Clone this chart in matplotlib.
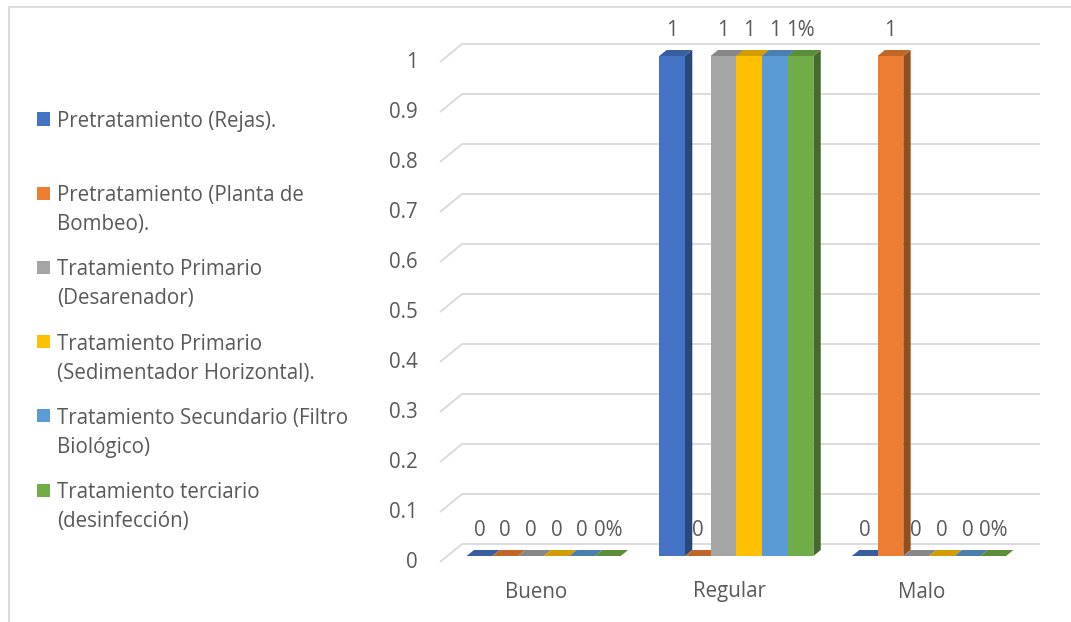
import matplotlib.pyplot as plt
from matplotlib.patches import Polygon, Rectangle
import numpy as np

plt.rcParams['font.family'] = ['Open Sans', 'DejaVu Sans']

# datos de la evaluación por etapa de tratamiento
categorias = ['Bueno', 'Regular', 'Malo']
series = [
    'Pretratamiento (Rejas).',
    'Pretratamiento (Planta de\nBombeo).',
    'Tratamiento Primario\n(Desarenador)',
    'Tratamiento Primario\n(Sedimentador Horizontal).',
    'Tratamiento Secundario (Filtro\nBiológico)',
    'Tratamiento terciario\n(desinfección)',
]
rejas = [0, 1, 0]
bombeo = [0, 0, 1]
desarenador = [0, 1, 0]
sedimentador = [0, 1, 0]
filtro = [0, 1, 0]
desinfeccion = [0, 1, 0]
valores = [rejas, bombeo, desarenador, sedimentador, filtro, desinfeccion]
formatos = ['{:g}', '{:g}', '{:g}', '{:g}', '{:g}', '{:g}%']
ticks_y = [0, 0.1, 0.2, 0.3, 0.4, 0.5, 0.6, 0.7, 0.8, 0.9, 1]

colores = ['#4472C4', '#ED7D31', '#A5A5A5', '#FFC000', '#5B9BD5', '#70AD47']
gris_texto = '#595959'
gris_grid = '#D9D9D9'
fs = 14.8

W, H = 1071, 622
fig = plt.figure(figsize=(W / 100, H / 100), dpi=100)

# marco del gráfico
fig.patches.append(Rectangle((9 / W, -0.1), 1.2, 1 - 7 / H + 0.1, transform=fig.transFigure,
                             fill=False, edgecolor=gris_grid, lw=1.3))

# plano frontal del área de trazado (en píxeles)
x_ini, x_fin, y_cero, y_uno = 440, 1018, 562, 62
ax = fig.add_axes([x_ini / W, (H - y_cero) / H, (x_fin - x_ini) / W, (y_cero - y_uno) / H])
ax.set_xlim(0, len(categorias))
ax.set_ylim(0, 1)
ax.axis('off')

# profundidad de la vista 3D convertida a unidades de datos
px_x = len(categorias) / (x_fin - x_ini)
px_y = 1 / (y_cero - y_uno)
DX, DY = 22 * px_x, 18 * px_y
dx, dy = DX / 3, DY / 3

# pared de fondo con líneas de cuadrícula
for v in ticks_y:
    ax.plot([0, DX, len(categorias) + DX], [v, v + DY, v + DY], color=gris_grid, lw=1.3,
            clip_on=False, zorder=0, solid_capstyle='butt')
    ax.annotate(f'{v:g}', (0, v), xytext=(-22, 0), textcoords='offset pixels',
                ha='right', va='center', fontsize=fs, color=gris_texto, annotation_clip=False)

for i, cat in enumerate(categorias):
    ax.annotate(cat, (i + 0.5, 0), xytext=(0, -30), textcoords='offset pixels',
                ha='center', va='center', fontsize=fs, color=gris_texto, annotation_clip=False)


def sombra(color, f):
    rgb = np.array(plt.matplotlib.colors.to_rgb(color))
    return tuple(rgb * f)


ancho_grupo = 0.8
bw = ancho_grupo / len(series)
orden = 1
for i in range(len(categorias)):
    for j, serie in enumerate(valores):
        v = serie[i]
        x0 = i + (1 - ancho_grupo) / 2 + j * bw + dx
        x1 = x0 + bw
        base = dy
        top = base + v
        c = colores[j]
        if v > 0:
            ax.add_patch(Polygon([(x1, base), (x1 + dx, base + dy), (x1 + dx, top + dy), (x1, top)],
                                 closed=True, facecolor=sombra(c, 0.62), edgecolor='none',
                                 clip_on=False, zorder=orden))
        ax.add_patch(Polygon([(x0, top), (x1, top), (x1 + dx, top + dy), (x0 + dx, top + dy)],
                             closed=True, facecolor=sombra(c, 0.82), edgecolor='none',
                             clip_on=False, zorder=orden + 0.1))
        ax.bar(x0, v, width=bw, bottom=base, align='edge', color=c, edgecolor='none',
               clip_on=False, zorder=orden + 0.2)
        ax.annotate(formatos[j].format(v), (x0 + bw / 2, top + dy), xytext=(0, 20),
                    textcoords='offset pixels', ha='center', va='center',
                    fontsize=fs, color=gris_texto, zorder=50, annotation_clip=False)
        orden += 1

# leyenda a la izquierda
y_leyenda = 119
paso = 74.2
for j, nombre in enumerate(series):
    yc = y_leyenda + j * paso
    fig.patches.append(Rectangle((37 / W, (H - yc - 6.5) / H), 13 / W, 13 / H,
                                 transform=fig.transFigure, facecolor=colores[j],
                                 edgecolor='none'))
    for k, linea in enumerate(nombre.split('\n')):
        fig.text(57 / W, (H - yc - k * 29) / H, linea, ha='left', va='center_baseline',
                 fontsize=fs, color=gris_texto)

fig.savefig('out.png', dpi=100)
